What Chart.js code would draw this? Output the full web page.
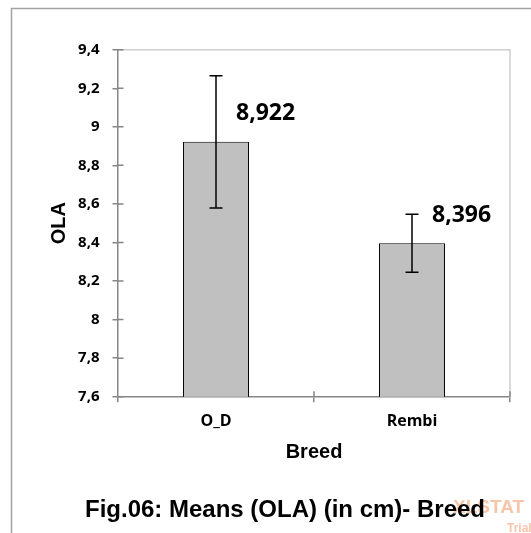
<!DOCTYPE html>
<html>
<head>
<meta charset="utf-8">
<script src="https://cdn.jsdelivr.net/npm/chart.js@4.4.1/dist/chart.umd.min.js"></script>
<style>
  html, body { margin: 0; padding: 0; background: #fff; overflow: hidden; }
  #wrap { position: absolute; left: 0; top: 0; width: 570px; height: 533px; }
</style>
</head>
<body>
<div id="wrap"><canvas id="chart"></canvas></div>
<script>
// Data
const breeds = ["O_D", "Rembi"];
const means = [8.922, 8.396];
const errors = [0.343, 0.150];
const yTicks = [7.6, 7.8, 8, 8.2, 8.4, 8.6, 8.8, 9, 9.2, 9.4];
const chartTitle = "Fig.06: Means (OLA) (in cm)- Breed";
const xTitle = "Breed";
const yTitle = "OLA";

const axisGray = "#868686";
const tickFont = { family: "Open Sans", weight: "bold", size: 15 };
const titleFont = { family: "Liberation Sans", weight: "bold", size: 20 };

// decimal comma like the original
function withComma(v) {
    return String(v).replace(".", ",");
}

// frame round the whole chart + the trial watermark
const framePlugin = {
    id: "frame",
    beforeDraw(chart) {
        const ctx = chart.ctx;
        ctx.save();
        ctx.strokeStyle = "#a3a3a3";
        ctx.lineWidth = 1.5;
        ctx.strokeRect(11.5, 8.5, 547, 600);
        ctx.fillStyle = "rgba(242, 140, 85, 0.5)";
        ctx.font = "bold 19px 'Liberation Sans'";
        ctx.textBaseline = "alphabetic";
        ctx.fillText("XLSTAT", 453, 513);
        ctx.font = "bold 12px 'Liberation Sans'";
        ctx.fillText("Trial", 507, 532);
        ctx.restore();
    }
};

// error bars, value labels, light plot border and the inner half of each tick
const extrasPlugin = {
    id: "extras",
    afterDatasetsDraw(chart) {
        const ctx = chart.ctx;
        const x = chart.scales.x;
        const y = chart.scales.y;
        const area = chart.chartArea;
        const bars = chart.getDatasetMeta(0).data;
        ctx.save();

        ctx.strokeStyle = "#d0d0d0";
        ctx.lineWidth = 1.5;
        ctx.beginPath();
        ctx.moveTo(area.left, area.top);
        ctx.lineTo(area.right, area.top);
        ctx.lineTo(area.right, area.bottom);
        ctx.stroke();

        ctx.strokeStyle = axisGray;
        ctx.lineWidth = 1.5;
        ctx.beginPath();
        yTicks.forEach(v => {
            const py = y.getPixelForValue(v);
            ctx.moveTo(area.left, py);
            ctx.lineTo(area.left + 5.5, py);
        });
        for (let i = 1; i <= breeds.length; i++) {
            const px = i < breeds.length
                ? (x.getPixelForValue(i - 1) + x.getPixelForValue(i)) / 2
                : area.right;
            ctx.moveTo(px, area.bottom);
            ctx.lineTo(px, area.bottom - 5.5);
        }
        ctx.stroke();

        ctx.strokeStyle = "#000";
        ctx.lineWidth = 1.5;
        ctx.fillStyle = "#000";
        ctx.font = "bold 23px 'Open Sans'";
        ctx.textAlign = "left";
        ctx.textBaseline = "middle";
        bars.forEach((bar, i) => {
            const top = y.getPixelForValue(means[i] + errors[i]);
            const bot = y.getPixelForValue(means[i] - errors[i]);
            ctx.beginPath();
            ctx.moveTo(bar.x, top);
            ctx.lineTo(bar.x, bot);
            ctx.moveTo(bar.x - 6.5, top);
            ctx.lineTo(bar.x + 6.5, top);
            ctx.moveTo(bar.x - 6.5, bot);
            ctx.lineTo(bar.x + 6.5, bot);
            ctx.stroke();
            ctx.fillText(withComma(means[i].toFixed(3)), bar.x + 20, bar.y - 28);
        });
        ctx.restore();
    }
};

new Chart(document.getElementById("chart"), {
    type: "bar",
    data: {
        labels: breeds,
        datasets: [{
            data: means,
            backgroundColor: "#c0c0c0",
            borderColor: "#000",
            borderWidth: 1,
            barPercentage: 0.337,
            categoryPercentage: 1
        }]
    },
    options: {
        responsive: true,
        maintainAspectRatio: false,
        animation: false,
        devicePixelRatio: 1,
        layout: { padding: { top: 49.7, left: 0, right: 0, bottom: 0 } },
        plugins: {
            legend: { display: false },
            tooltip: { enabled: false },
            title: {
                display: true,
                position: "bottom",
                text: chartTitle,
                color: "#000",
                font: { family: "Liberation Sans", weight: "bold", size: 24 },
                padding: { top: 0, bottom: 8 }
            }
        },
        scales: {
            x: {
                offset: true,
                grid: { display: true, drawOnChartArea: false, offset: true, tickLength: 5.5, color: axisGray, lineWidth: 1.5 },
                border: { color: axisGray, width: 1.5 },
                ticks: { color: "#000", font: { family: "Open Sans", weight: "bold", size: 16 }, padding: 9.5 },
                title: { display: true, text: xTitle, color: "#000", font: titleFont, padding: { top: 0, bottom: 31.7 } },
                afterFit(s) { s.height = 99.5; }
            },
            y: {
                min: yTicks[0],
                max: yTicks[yTicks.length - 1],
                afterBuildTicks(s) { s.ticks = yTicks.map(v => ({ value: v })); },
                grid: { display: true, drawOnChartArea: false, tickLength: 5.5, color: axisGray, lineWidth: 1.5 },
                border: { color: axisGray, width: 1.5 },
                ticks: { color: "#000", font: tickFont, padding: 13, callback: v => withComma(v) },
                title: { display: true, text: yTitle, color: "#000", font: titleFont, padding: { top: 47, bottom: 0 } },
                afterFit(s) { s.width = 118; }
            },
            spare: {
                position: "right",
                display: true,
                grid: { display: false },
                border: { display: false },
                ticks: { display: false },
                afterFit(s) { s.width = 60; }
            }
        }
    },
    plugins: [framePlugin, extrasPlugin]
});
</script>
</body>
</html>
